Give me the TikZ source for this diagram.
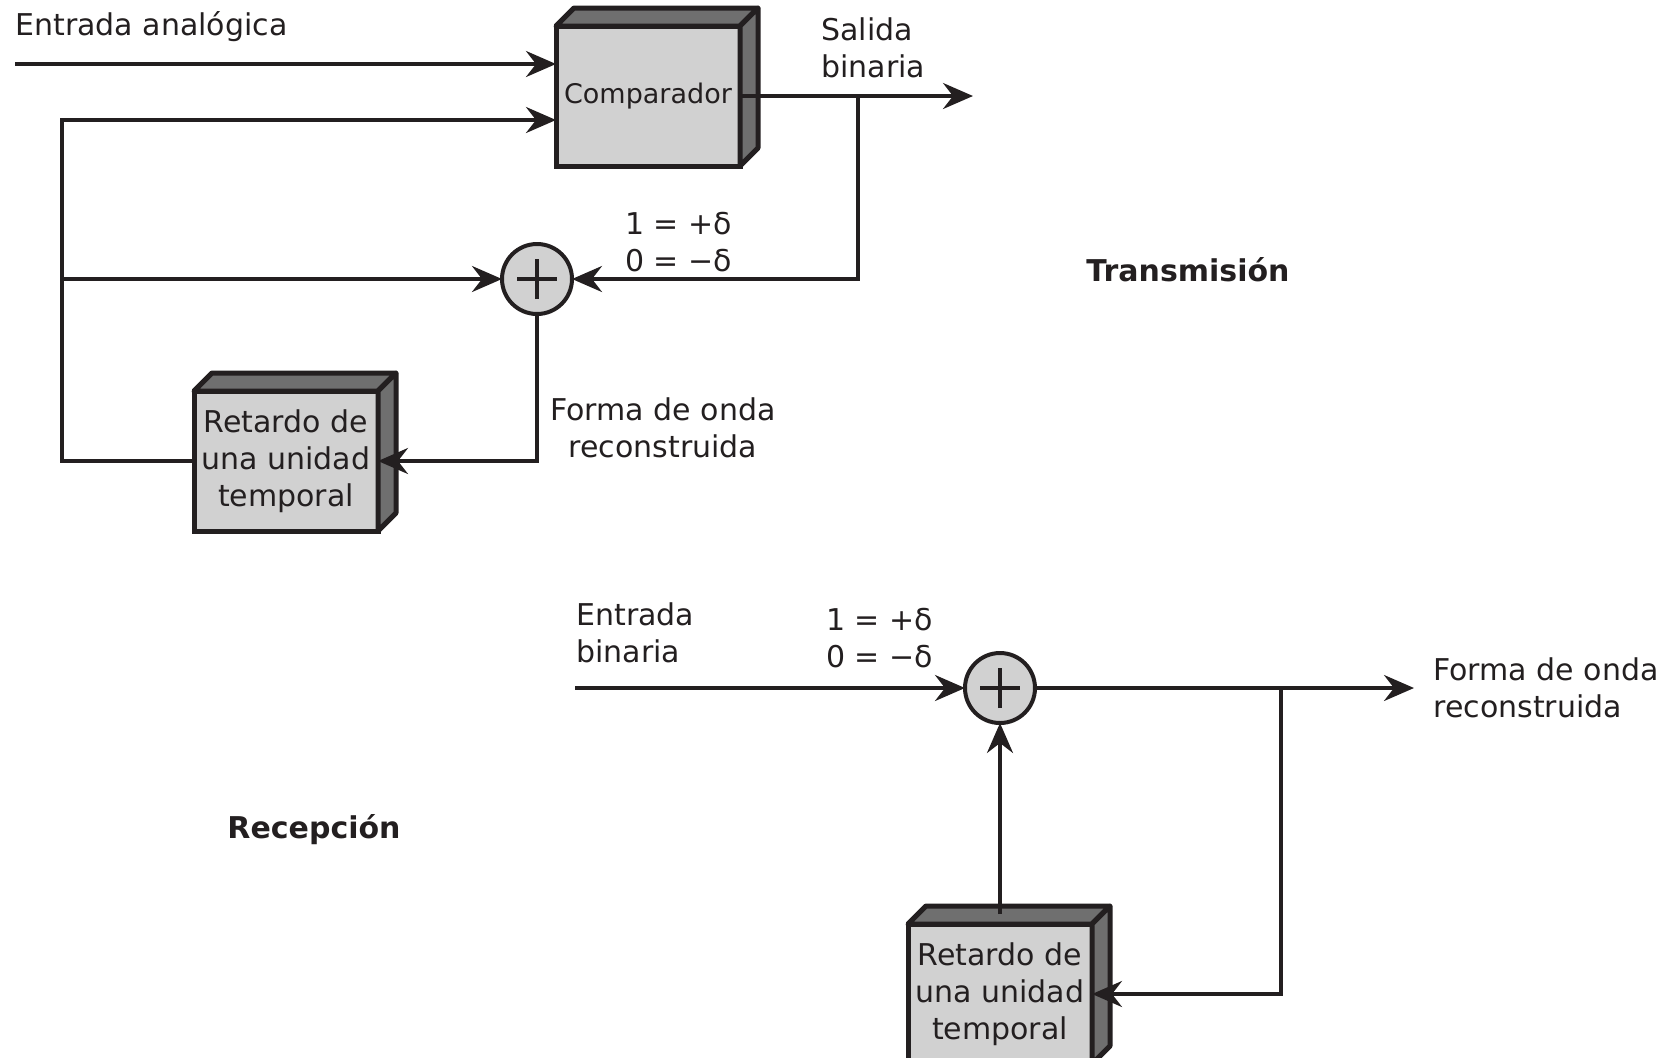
\documentclass[tikz,border=0pt]{standalone}
\usepackage{fontspec}
\setmainfont{DejaVu Sans}
\usepackage{xcolor}
\definecolor{bordeGris}{HTML}{231F20}
\definecolor{caraGris}{HTML}{D1D1D1}
\definecolor{ladoGris}{HTML}{6F6F6F}
\usetikzlibrary{arrows.meta,positioning,calc}

\begin{document}
\begin{tikzpicture}[x=0.5pt,y=-0.5pt,
 every node/.style={text=bordeGris,font=\fontsize{15}{18.4}\selectfont},
 bloque/.style={draw=bordeGris,line width=2.5pt,fill=caraGris,outer sep=0pt,
 minimum width=92pt,minimum height=70pt,inner sep=1pt,align=center},
 cara/.style={draw=bordeGris,line width=2.5pt,fill=ladoGris,line join=round},
 suma/.style={circle,draw=bordeGris,line width=2pt,fill=caraGris,minimum size=35pt,outer sep=0pt,
 path picture={\draw[line width=2pt,bordeGris] (path picture bounding box.center) +(-10pt,0) -- +(10pt,0)
 +(0,-10pt) -- +(0,10pt);}},
 arr/.style={-{Stealth[length=15pt,width=13pt,inset=5pt]},line width=1.75pt,draw=bordeGris},
 etq/.style={align=left,inner sep=0pt},
 titulo/.style={font=\fontsize{15}{18.4}\selectfont\bfseries}]
 \clip (0,0) rectangle (1677,1057);
 \node[etq,anchor=west] (entA) at (15,27) {Entrada analógica};
 \node[etq,anchor=west] (salB) at (821,48) {Salida\\binaria};
 \node[etq,anchor=west] (cod1) at (625,242) {1 = +δ\\0 = −δ};
 \node[titulo] (tx) at (1188,270) {Transmisión};
 \node[etq,align=center] (fo1) at (663,428) {Forma de onda\\reconstruida};
 \node[etq,anchor=west] (entB) at (576,633) {Entrada\\binaria};
 \node[etq,anchor=west] (cod2) at (826,638) {1 = +δ\\0 = −δ};
 \node[etq,anchor=west] (fo2) at (1433,688) {Forma de onda\\reconstruida};
 \node[titulo] (rx) at (314,830) {Recepción};
 \node[bloque,font=\fontsize{13.5}{16}\selectfont] (comp) at (648,96) {Comparador};
 \node[suma] (s1) at (537,279) {};
 \node[bloque] (ret1) at (286,461) {Retardo de\\una unidad\\temporal};
 \node[suma] (s2) at (1000,688) {};
 \node[bloque] (ret2) at (1000,994) {Retardo de\\una unidad\\temporal};
 \foreach \b in {comp,ret1,ret2}{
 \draw[cara] (\b.north west) -- ++(18,-18) -- ($(\b.north east)+(18,-18)$) -- (\b.north east) -- cycle;
 \draw[cara] (\b.north east) -- ++(18,-18) -- ($(\b.south east)+(18,-18)$) -- (\b.south east) -- cycle;
 }
 \coordinate (ain) at (15,64);
 \coordinate (fbL) at (62,461);
 \coordinate (tap1) at (858,96);
 \coordinate (bout) at (973,96);
 \coordinate (bin) at (575,688);
 \coordinate (tap2) at (1281,688);
 \coordinate (rout) at (1414,688);
 \draw[arr] (ain) -- (ain -| comp.west);
 \draw[arr] (ret1.west) -- (fbL) |- ($(comp.west)+(0,24)$);
 \draw[arr] (fbL |- s1) -- (s1.west);
 \draw[arr] (comp.east) -- (bout);
 \draw[arr] (tap1) |- (s1.east);
 \draw[arr] (s1.south) |- (ret1.east);
 \draw[arr] (bin) -- (s2.west);
 \draw[arr] (s2.east) -- (rout);
 \draw[arr] (tap2) |- (ret2.east);
 \draw[arr] ($(ret2.north)+(0,-10)$) -- (s2.south);
\end{tikzpicture}
\end{document}
